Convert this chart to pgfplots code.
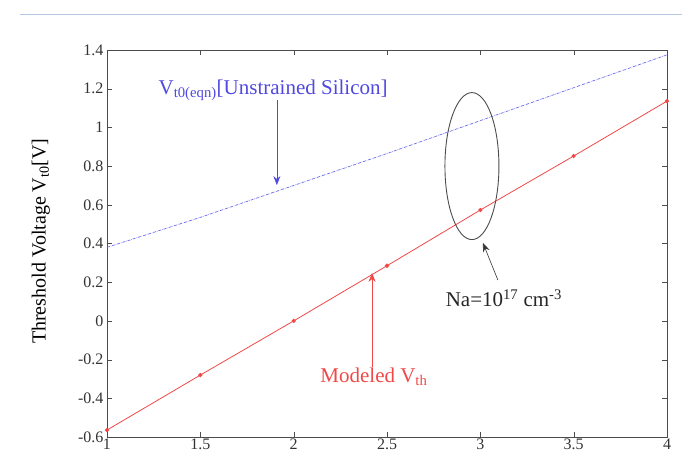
\documentclass[border=0pt]{standalone}
\usepackage{pgfplots}
\pgfplotsset{compat=1.18}
\usepackage{fontspec}
\setmainfont{Liberation Serif}
\usetikzlibrary{arrows.meta}
\definecolor{lblue}{HTML}{6A6AF0}
\definecolor{tblue}{HTML}{5048E0}
\definecolor{lred}{HTML}{F04848}
\definecolor{topline}{HTML}{B4C8E4}
\begin{document}
\begin{tikzpicture}
\begin{axis}[
  scale only axis, width=560pt, height=387pt,
  xmin=1, xmax=4, ymin=-0.6, ymax=1.4,
  xtick={1,1.5,2,2.5,3,3.5,4},
  xticklabels={1,1.5,2,2.5,3,3.5,4},
  ytick={-0.6,-0.4,-0.2,0,0.2,0.4,0.6,0.8,1,1.2,1.4},
  yticklabels={-0.6,-0.4,-0.2,0,0.2,0.4,0.6,0.8,1,1.2,1.4},
  /pgf/number format/assume math mode=true,
  tick align=inside, major tick length=5pt,
  tick label style={font=\fontsize{16}{18}\selectfont, text=black!80},
  xticklabel style={yshift=2pt},
  axis line style={black!70, line width=0.9pt},
  tick style={black!70},
  clip=false,
  ylabel={Threshold Voltage V\textsubscript{t0}[V]},
  ylabel style={at={(axis description cs:-0.118,0.506)}, anchor=center, font=\fontsize{20}{22}\selectfont},
]
\addplot[lblue, densely dash dot, line width=0.7pt] coordinates {
 (1,0.38) (1.5,0.535) (2,0.70) (2.5,0.865) (3,1.035) (3.5,1.205) (4,1.375)};
\addplot[lred, line width=0.8pt, mark=*, mark size=1.7pt] coordinates {
 (1,-0.564) (1.5,-0.28) (2,0.00) (2.5,0.285) (3,0.573) (3.5,0.852) (4,1.136)};
\node[text=tblue, font=\fontsize{21}{23}\selectfont] at (axis cs:1.89,1.193) {V\textsubscript{t0(eqn)}[Unstrained Silicon]};
\draw[tblue, line width=0.6pt, -{Stealth[length=9pt,width=7pt]}] (axis cs:1.91,1.142) -- (axis cs:1.91,0.702);
\node[text=lred, font=\fontsize{21}{23}\selectfont] at (axis cs:2.43,-0.29) {Modeled V\textsubscript{th}};
\draw[lred, line width=0.6pt, -{Stealth[length=9pt,width=7pt]}] (axis cs:2.42,-0.238) -- (axis cs:2.42,0.248);
\draw[black!70, line width=0.9pt] (axis cs:2.955,0.80) ellipse [x radius=27pt, y radius=73.5pt];
\draw[black!80, line width=0.6pt, -{Stealth[length=9pt,width=7pt]}] (axis cs:3.094,0.211) -- (axis cs:3.014,0.403);
\node[text=black!85, font=\fontsize{21}{23}\selectfont] at (axis cs:3.126,0.118) {Na=10\textsuperscript{17} cm\textsuperscript{-3}};
\draw[topline, line width=1pt] (axis description cs:-0.155,1.093) -- (axis description cs:1.027,1.093);
\end{axis}
\pgfresetboundingbox
\path ([shift={(-107pt,-21pt)}]current axis.south west) rectangle ([shift={(15pt,50pt)}]current axis.north east);
\end{tikzpicture}
\end{document}
